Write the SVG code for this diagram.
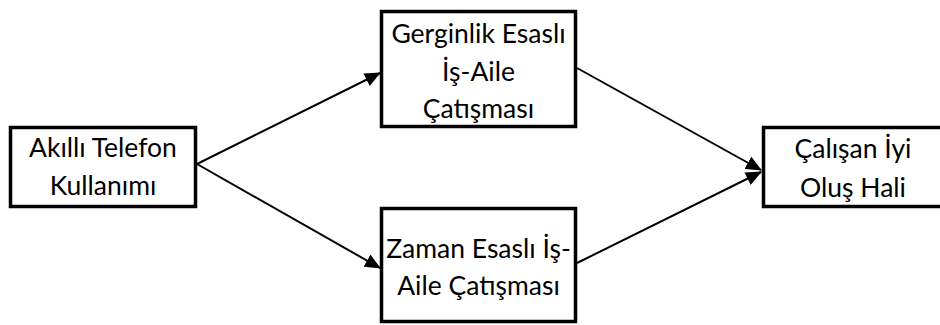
<svg xmlns="http://www.w3.org/2000/svg" width="940" height="325" viewBox="0 0 940 325">
<style>
.box{fill:#fff;stroke:#000;stroke-width:3.5}
.t{font-family:Lato,"Open Sans",sans-serif;font-size:26.5px;fill:#000;text-anchor:middle}
.c{stroke:#000;stroke-width:2;fill:none;marker-end:url(#ah)}
</style>
<defs>
<marker id="ah" markerWidth="16" markerHeight="14" refX="15" refY="7" orient="auto" markerUnits="userSpaceOnUse">
<path d="M0,0 L16,7 L0,14 Z" fill="#000"/>
</marker>
</defs>
<g id="connectors">
<line class="c" x1="197" y1="164" x2="380" y2="73"/>
<line class="c" x1="197" y1="164" x2="380" y2="268"/>
<line class="c" x1="577" y1="68" x2="761" y2="170"/>
<line class="c" x1="577" y1="263" x2="761" y2="172"/>
</g>
<g id="n1">
<rect class="box" x="10.5" y="127.5" width="185" height="79"/>
<text class="t" x="103" y="157">Akıllı Telefon</text>
<text class="t" x="103" y="195">Kullanımı</text>
</g>
<g id="n2">
<rect class="box" x="381.5" y="11.5" width="194" height="115"/>
<text class="t" x="478.5" y="43">Gerginlik Esaslı</text>
<text class="t" x="478.5" y="81">İş-Aile</text>
<text class="t" x="478.5" y="118">Çatışması</text>
</g>
<g id="n3">
<rect class="box" x="381.5" y="208.5" width="194" height="113"/>
<text class="t" x="478.5" y="258">Zaman Esaslı İş-</text>
<text class="t" x="478.5" y="295">Aile Çatışması</text>
</g>
<g id="n4">
<rect class="box" x="763.5" y="127.5" width="180" height="79"/>
<text class="t" x="853" y="158">Çalışan İyi</text>
<text class="t" x="853" y="197">Oluş Hali</text>
</g>
</svg>
